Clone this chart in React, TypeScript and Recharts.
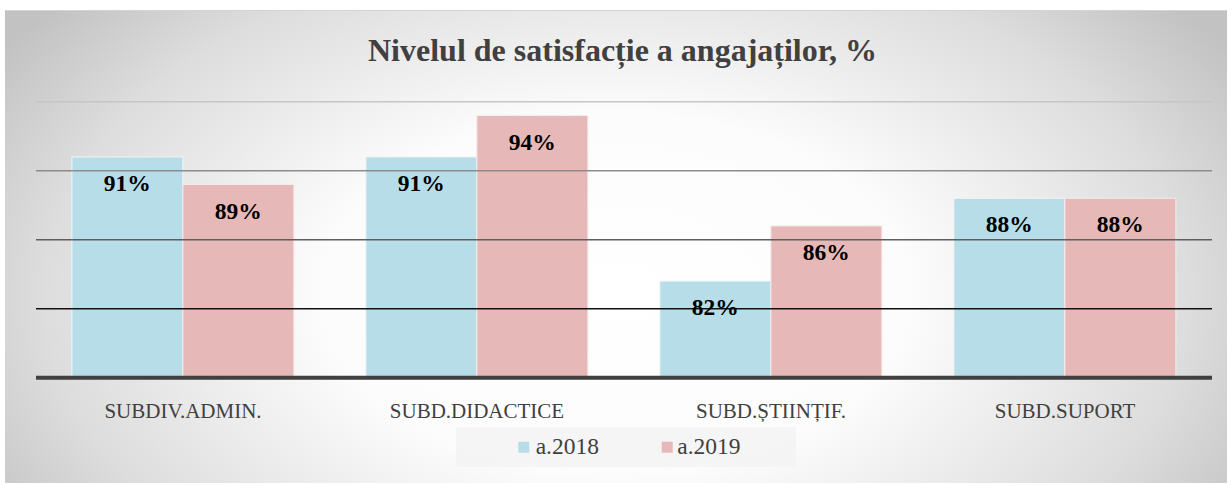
import React from 'react';
import { BarChart, Bar, XAxis, YAxis, ReferenceLine, LabelList, Legend } from 'recharts';

const categories = ['SUBDIV.ADMIN.', 'SUBD.DIDACTICE', 'SUBD.ȘTIINȚIF.', 'SUBD.SUPORT'];
const values2018 = [91, 91, 82, 88];
const values2019 = [89, 94, 86, 88];
const seriesNames = ['a.2018', 'a.2019'];
const yTicks = [75, 80, 85, 90, 95];
const gridColors: Record<number, string> = { 95: '#c6c6c6', 90: '#8c8c8c', 85: '#5e5e5e', 80: '#111111' };

const data = categories.map((c, i) => ({ name: c, y2018: values2018[i], y2019: values2019[i] }));

const SERIF = 'Liberation Serif';
const W = 1222;
const H = 473;

const ValueLabel = (props: any) => {
  const { x, y, width, value } = props;
  return (
    <text x={Number(x) + Number(width) / 2} y={Number(y) + 34} textAnchor="middle" style={{ fontFamily: SERIF, fontWeight: 'bold', fontSize: 23.5 }} fill="#000">
      {value}%
    </text>
  );
};

const CatTick = (props: any) => {
  const { x, y, payload } = props;
  return (
    <text x={x} y={y + 32} textAnchor="middle" style={{ fontFamily: SERIF, fontSize: 21 }} fill="#404040">
      {payload.value}
    </text>
  );
};

const LegendBox = (props: any) => {
  const payload = props.payload || [];
  const pos = [{ sq: 62.3, tx: 79.7 }, { sq: 205.7, tx: 221.3 }];
  return (
    <svg width={340} height={40} style={{ display: 'block' }}>
      <rect x={0} y={0} width={340} height={40} fill="#f3f3f3" fillOpacity={0.8} />
      {payload.map((p: any, i: number) => (
        <g key={i}>
          <rect x={pos[i].sq} y={14.7} width={11} height={11} fill={p.color} />
          <text x={pos[i].tx} y={27.3} style={{ fontFamily: SERIF, fontSize: 23.5 }} fill="#404040">{p.value}</text>
        </g>
      ))}
    </svg>
  );
};

export default function App() {
  return (
    <div style={{ position: 'absolute', left: 0, top: 0, width: 1232, height: 485, background: '#fff' }}>
      <div
        style={{
          position: 'absolute',
          left: 5,
          top: 10,
          width: W,
          height: H,
          boxSizing: 'border-box',
          borderTop: '1px solid #d4d4d4',
          background: 'radial-gradient(ellipse 60% 95% at 50% 60%, #ffffff 0%, #fcfcfc 40%, #dddddd 78%, #c2c2c2 100%)',
        }}
      >
        <svg width={W} height={80} style={{ position: 'absolute', left: 0, top: 0 }}>
          <text x={617.5} y={50} textAnchor="middle" style={{ fontFamily: SERIF, fontWeight: 'bold', fontSize: 32 }} fill="#404040">
            Nivelul de satisfacție a angajaților, %
          </text>
        </svg>
        <div style={{ position: 'absolute', left: 0, top: 0 }}>
          <BarChart
            width={W}
            height={H}
            data={data}
            margin={{ top: 90.7, right: 15, bottom: 17, left: 31 }}
            barCategoryGap="12.2%"
            barGap={0}
          >
            <YAxis hide domain={[75, 95]} ticks={yTicks} allowDataOverflow />
            <XAxis
              dataKey="name"
              height={49.3}
              tickLine={false}
              axisLine={{ stroke: '#404040', strokeWidth: 4 }}
              tick={<CatTick />}
              interval={0}
            />
            {yTicks.filter((t) => t > 75).map((t) => (
              <ReferenceLine key={t} y={t} stroke={gridColors[t]} strokeWidth={1.6} />
            ))}
            <Legend
              verticalAlign="bottom"
              content={<LegendBox />}
              wrapperStyle={{ left: 451, width: 340, height: 40 }}
            />
            <Bar dataKey="y2018" name={seriesNames[0]} fill="#b7dee8" stroke="#eef6f8" strokeWidth={1} isAnimationActive={false}>
              <LabelList dataKey="y2018" content={<ValueLabel />} />
            </Bar>
            <Bar dataKey="y2019" name={seriesNames[1]} fill="#e6b9b8" stroke="#f6eaea" strokeWidth={1} isAnimationActive={false}>
              <LabelList dataKey="y2019" content={<ValueLabel />} />
            </Bar>
          </BarChart>
        </div>
      </div>
    </div>
  );
}
